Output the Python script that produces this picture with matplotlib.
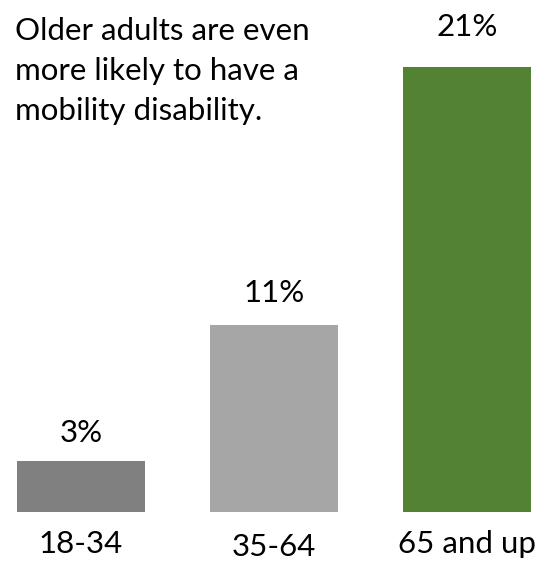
import matplotlib
matplotlib.use("Agg")
from matplotlib import pyplot as plt
from matplotlib import rcParams

rcParams['font.family'] = ['Lato', 'DejaVu Sans']

categories = ['18-34', '35-64', '65 and up']
bar_heights = [3, 11, 26.2]          # as drawn in the picture
value_labels = ['3%', '11%', '21%']
colors = ['#808080', '#a6a6a6', '#548235']
title_lines = ['Older adults are even', 'more likely to have a', 'mobility disability.']

W, H = 555, 561
base_px = 512      # baseline of the bars, px from top
k = 17.0           # px per percent

fig = plt.figure(figsize=(W / 100, H / 100), dpi=100)
ax = fig.add_axes([0, 0, 1, 1])
ax.set_xlim(-81 / 193, (W - 81) / 193)
ax.set_ylim(-(H - base_px) / k, base_px / k)
ax.axis('off')

x = range(len(categories))
ax.bar(x, bar_heights, width=0.665, color=colors)

val_gap = [28, 32, 40]
for i, (h, lab) in enumerate(zip(bar_heights, value_labels)):
    ax.annotate(lab, (i, h), xytext=(0, val_gap[i]), textcoords='offset pixels',
                ha='center', va='center', fontsize=22.5)

cat_gap = [41, 44, 41]
for i, cat in enumerate(categories):
    ax.annotate(cat, (i, 0), xytext=(0, -cat_gap[i]), textcoords='offset pixels',
                ha='center', va='baseline', fontsize=22.5)

for j, line in enumerate(title_lines):
    fig.text(15 / W, 1 - (40 + 40 * j) / H, line, ha='left', va='baseline',
             fontsize=22.5)

fig.savefig('out.png', dpi=100)
